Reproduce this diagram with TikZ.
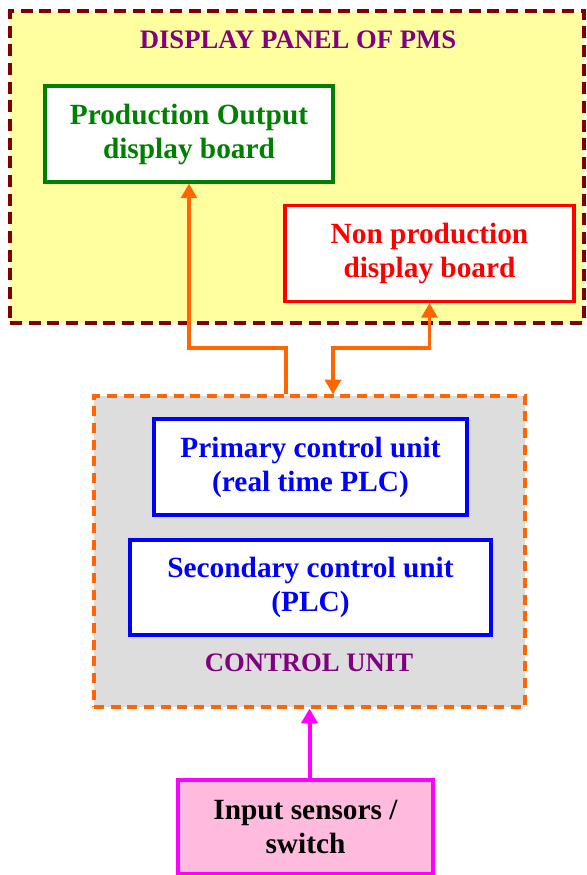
\documentclass[tikz,border=0pt]{standalone}
\usepackage{fontspec}
\setmainfont{Liberation Serif}
\usetikzlibrary{arrows.meta}
\definecolor{panelfill}{RGB}{255,255,160}
\definecolor{panelborder}{RGB}{128,0,0}
\definecolor{titlecol}{RGB}{128,0,128}
\definecolor{greencol}{RGB}{0,128,0}
\definecolor{redcol}{RGB}{255,0,0}
\definecolor{bluecol}{RGB}{0,0,255}
\definecolor{orangecol}{RGB}{255,102,0}
\definecolor{grayfill}{RGB}{221,221,221}
\definecolor{pinkfill}{RGB}{255,187,222}
\definecolor{magentacol}{RGB}{255,0,255}
\tikzset{
  px/.style={x=0.75pt,y=-0.75pt},
  boxtext/.style={font=\fontsize{22}{25.5}\selectfont\bfseries, align=center, inner sep=0pt},
  board/.style={boxtext, draw, line width=2.3pt, fill=white},
  arr/.style={draw=orangecol, line width=2.4pt, -{Triangle[width=12pt,length=11pt]}},
  arrboth/.style={draw=orangecol, line width=2.4pt, {Triangle[width=12pt,length=11pt]}-{Triangle[width=12pt,length=11pt]}},
  titletext/.style={font=\fontsize{20}{24}\selectfont\bfseries, text=titlecol, inner sep=0pt}
}
\begin{document}
\begin{tikzpicture}[px]
\useasboundingbox (0,0) rectangle (586,875);
% display panel
\node[draw=panelborder, fill=panelfill, line width=2.4pt, dash pattern=on 9pt off 5pt,
      minimum width=574*0.75pt, minimum height=312*0.75pt, inner sep=0pt] (panel) at (297,167) {};
\node[titletext] (ptitle) at (298,40) {DISPLAY PANEL OF PMS};
% control unit
\node[draw=orangecol, fill=grayfill, line width=2.4pt, dash pattern=on 7.5pt off 5pt,
      minimum width=431*0.75pt, minimum height=311*0.75pt, inner sep=0pt] (cu) at (309.5,551.5) {};
\node[titletext] (cutitle) at (309,663) {CONTROL UNIT};
% boards
\node[board, draw=greencol, text=greencol, minimum width=288*0.75pt, minimum height=96*0.75pt] (prod) at (189,134) {Production Output\\display board};
\node[board, draw=redcol, text=redcol, minimum width=289*0.75pt, minimum height=96*0.75pt] (np) at (429.5,253.5) {Non production\\display board};
\node[board, draw=bluecol, text=bluecol, minimum width=313*0.75pt, minimum height=96*0.75pt] (prim) at (310.5,467) {Primary control unit\\(real time PLC)};
\node[board, draw=bluecol, text=bluecol, minimum width=361*0.75pt, minimum height=95*0.75pt] (sec) at (310.5,587.5) {Secondary control unit\\(PLC)};
\node[board, draw=magentacol, fill=pinkfill, text=black, line width=3pt, minimum width=255*0.75pt, minimum height=94*0.75pt] (inp) at (305.5,826.5) {Input sensors /\\switch};
% connectors
\coordinate (j1) at (286,348);
\coordinate (j2) at (333,348);
\draw[arr] (j1 |- cu.north) -- (j1) -| (prod.south);
\draw[arrboth] (np.south) |- (j2) -- (j2 |- cu.north);
\draw[draw=magentacol, line width=3pt, -{Triangle[width=12pt,length=11pt]}] (inp.north -| cu.south) -- (cu.south);
\end{tikzpicture}
\end{document}
